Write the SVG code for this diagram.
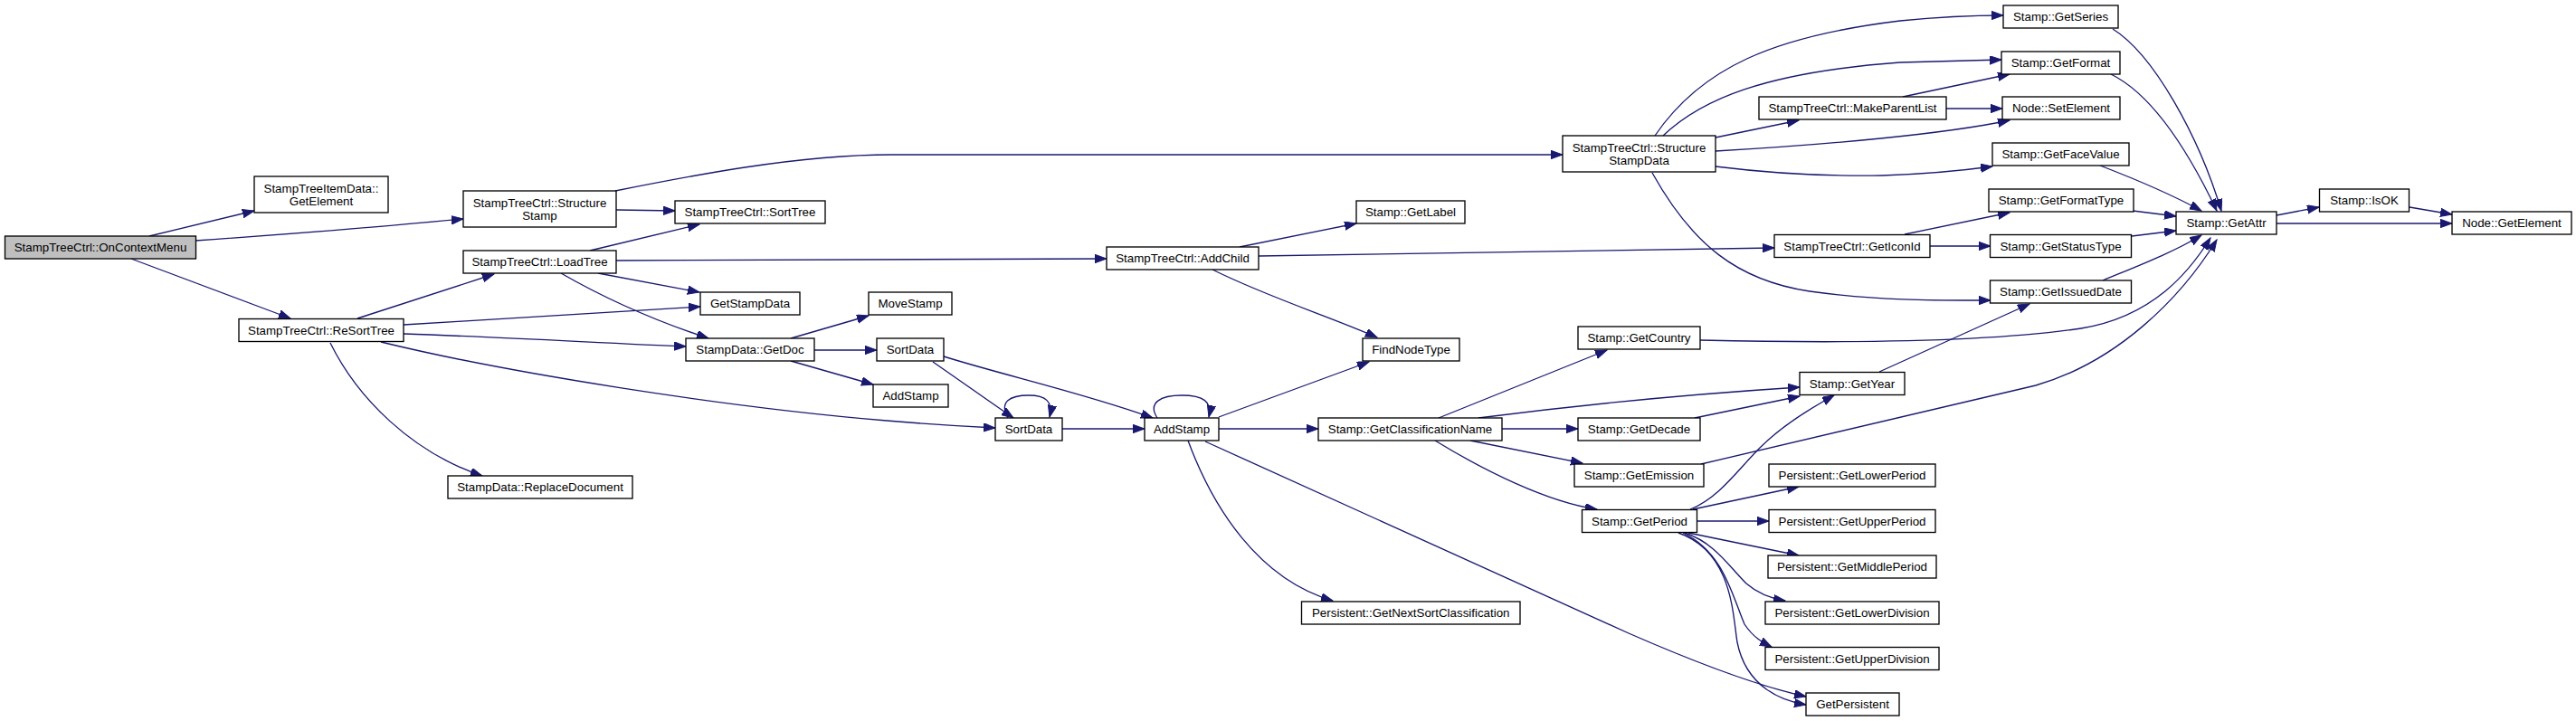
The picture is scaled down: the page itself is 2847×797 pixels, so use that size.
<svg xmlns="http://www.w3.org/2000/svg" width="2847" height="797" viewBox="0 0 2847 797">
<style>
.node rect{fill:#ffffff;stroke:#000000;stroke-width:1.33}
.root rect{fill:#bfbfbf}
text{font-family:"Liberation Sans",Arial,Helvetica,sans-serif;font-size:13.33px;text-anchor:middle;fill:#000000}
.edges path{fill:none;stroke:#191970;stroke-width:1.33;marker-end:url(#arr)}
</style>
<defs>
<marker id="arr" markerUnits="userSpaceOnUse" markerWidth="14" markerHeight="10" viewBox="0 0 14 10" refX="13" refY="4.7" orient="auto">
<path d="M0,0 L13,4.7 L0,9.4 z" fill="#191970" stroke="#191970" stroke-width="1"/>
</marker>
</defs>
<rect x="0" y="0" width="2847" height="797" fill="#ffffff"/>
<g class="edges" id="edges">
<path d="M165,261 L281,233"/>
<path d="M216,266 C330,258 430,250 512,242"/>
<path d="M145,286 L321,352"/>
<path d="M680,211 C760,195 880,171 985,171 L1727,171"/>
<path d="M681,232 L746,233"/>
<path d="M652,277 L773,248"/>
<path d="M681,288 C900,287 1100,286 1223,286"/>
<path d="M661,302 L773,323"/>
<path d="M620,302 C660,325 710,350 783,374"/>
<path d="M395,352 L546,303"/>
<path d="M446,359 C560,352 680,345 774,339"/>
<path d="M446,369 C560,373 680,380 758,383"/>
<path d="M421,378 C560,412 800,450 980,465 C1040,470 1080,472 1100,473"/>
<path d="M365,379 C395,440 455,500 533,526"/>
<path d="M874,374 L960,349"/>
<path d="M900,387 L969,387"/>
<path d="M874,399 L965,425"/>
<path d="M1031,400 C1060,420 1095,445 1120,462"/>
<path d="M1043,394 C1110,415 1200,435 1274,462"/>
<path d="M1114,462 C1104,444 1116,437 1137,437 C1156,437 1164,444 1160,461"/>
<path d="M1174,474 L1265,474"/>
<path d="M1279,462 C1268,445 1283,437 1306,437 C1330,437 1340,444 1336,461"/>
<path d="M1347,461 L1513,400"/>
<path d="M1347,474 L1457,474"/>
<path d="M1313,487 C1340,560 1390,640 1473,664"/>
<path d="M1332,488 L1800,700 C1880,735 1950,760 1996,770"/>
<path d="M1370,273 L1499,247"/>
<path d="M1391,283 C1600,280 1800,276 1961,274"/>
<path d="M1340,298 C1400,328 1470,350 1522,373"/>
<path d="M1829,150 C1880,75 1960,40 2100,23 C2150,18 2180,17 2214,17"/>
<path d="M1838,150 C1880,110 1950,80 2100,69 L2212,66"/>
<path d="M1896,152 L1988,133"/>
<path d="M1896,167 C2020,160 2150,148 2221,133"/>
<path d="M1896,184 C1960,192 2020,195 2080,194 C2140,192 2180,187 2202,184"/>
<path d="M1826,191 C1870,270 1920,310 2000,322 C2080,333 2150,332 2200,332"/>
<path d="M2103,107 L2221,82"/>
<path d="M2151,120 L2213,120"/>
<path d="M2105,259 L2221,235"/>
<path d="M2133,272 L2200,272"/>
<path d="M1590,462 L1776,387"/>
<path d="M1634,462 C1750,447 1880,435 1989,428"/>
<path d="M1660,474 L1744,474"/>
<path d="M1625,487 L1749,512"/>
<path d="M1586,487 C1640,520 1710,555 1765,563"/>
<path d="M1879,376 C2050,380 2200,378 2300,363 C2380,350 2420,300 2443,263"/>
<path d="M1873,462 L1989,438"/>
<path d="M1880,513 L2250,426 C2340,400 2410,330 2450,265"/>
<path d="M2077,411 L2243,336"/>
<path d="M1868,563 C1900,550 1920,520 1945,495 C1970,470 2000,452 2027,437"/>
<path d="M1871,563 L1988,538"/>
<path d="M1875,576 L1955,576"/>
<path d="M1866,589 L1988,614"/>
<path d="M1862,589 C1895,600 1910,625 1930,645 C1945,658 1960,662 1973,664"/>
<path d="M1860,589 C1905,610 1915,660 1928,690 C1938,705 1948,710 1958,715"/>
<path d="M1855,589 C1915,610 1915,680 1920,710 C1930,760 1970,775 1996,779"/>
<path d="M2335,32 C2380,60 2430,150 2455,233"/>
<path d="M2333,82 C2380,105 2420,170 2450,233"/>
<path d="M2321,183 C2360,198 2400,215 2433,233"/>
<path d="M2357,233 L2405,239"/>
<path d="M2356,261 L2405,255"/>
<path d="M2324,310 C2360,295 2400,280 2433,260"/>
<path d="M2516,238 L2563,229"/>
<path d="M2516,247 L2710,247"/>
<path d="M2663,229 L2710,237"/>
</g>
<g class="node root" id="n_OnContextMenu"><rect x="5.5" y="261" width="211" height="25"/><text x="111" y="278">StampTreeCtrl::OnContextMenu</text></g>
<g class="node" id="n_ItemDataGetElement"><rect x="281" y="195" width="148" height="40"/><text x="355" y="212.5">StampTreeItemData::</text><text x="355" y="227">GetElement</text></g>
<g class="node" id="n_StructureStamp"><rect x="512" y="211" width="169" height="40"/><text x="596.5" y="228.5">StampTreeCtrl::Structure</text><text x="596.5" y="243">Stamp</text></g>
<g class="node" id="n_LoadTree"><rect x="512" y="277" width="169" height="25"/><text x="596.5" y="294">StampTreeCtrl::LoadTree</text></g>
<g class="node" id="n_ReSortTree"><rect x="264" y="352.5" width="182" height="25"/><text x="355" y="369.5">StampTreeCtrl::ReSortTree</text></g>
<g class="node" id="n_ReplaceDocument"><rect x="495" y="526" width="204" height="25"/><text x="597" y="543">StampData::ReplaceDocument</text></g>
<g class="node" id="n_SortTree"><rect x="746" y="222" width="166" height="25"/><text x="829" y="239">StampTreeCtrl::SortTree</text></g>
<g class="node" id="n_GetStampData"><rect x="774" y="323" width="110" height="25"/><text x="829" y="340">GetStampData</text></g>
<g class="node" id="n_GetDoc"><rect x="758" y="374" width="142" height="25"/><text x="829" y="391">StampData::GetDoc</text></g>
<g class="node" id="n_MoveStamp"><rect x="960" y="323" width="92" height="25"/><text x="1006" y="340">MoveStamp</text></g>
<g class="node" id="n_SortData1"><rect x="969" y="374" width="74" height="25"/><text x="1006" y="391">SortData</text></g>
<g class="node" id="n_AddStamp1"><rect x="965" y="425" width="83" height="25"/><text x="1006.5" y="442">AddStamp</text></g>
<g class="node" id="n_SortData2"><rect x="1100" y="462" width="74" height="25"/><text x="1137" y="479">SortData</text></g>
<g class="node" id="n_AddChild"><rect x="1223" y="273" width="168" height="25"/><text x="1307" y="290">StampTreeCtrl::AddChild</text></g>
<g class="node" id="n_AddStamp2"><rect x="1265" y="462" width="82" height="25"/><text x="1306" y="479">AddStamp</text></g>
<g class="node" id="n_StructureStampData"><rect x="1727" y="150" width="169" height="40"/><text x="1811.5" y="167.5">StampTreeCtrl::Structure</text><text x="1811.5" y="182">StampData</text></g>
<g class="node" id="n_GetLabel"><rect x="1499" y="222" width="120" height="25"/><text x="1559" y="239">Stamp::GetLabel</text></g>
<g class="node" id="n_FindNodeType"><rect x="1506" y="374" width="107" height="25"/><text x="1559.5" y="391">FindNodeType</text></g>
<g class="node" id="n_GetClassificationName"><rect x="1457" y="462" width="203" height="25"/><text x="1558.5" y="479">Stamp::GetClassificationName</text></g>
<g class="node" id="n_GetNextSortClassification"><rect x="1438.5" y="665" width="241.5" height="25"/><text x="1559.25" y="682">Persistent::GetNextSortClassification</text></g>
<g class="node" id="n_GetCountry"><rect x="1744" y="361" width="135" height="25"/><text x="1811.5" y="378">Stamp::GetCountry</text></g>
<g class="node" id="n_GetDecade"><rect x="1744" y="462" width="135" height="25"/><text x="1811.5" y="479">Stamp::GetDecade</text></g>
<g class="node" id="n_GetEmission"><rect x="1740" y="513" width="143" height="25"/><text x="1811.5" y="530">Stamp::GetEmission</text></g>
<g class="node" id="n_GetPeriod"><rect x="1748.5" y="563.5" width="127" height="25"/><text x="1812" y="580.5">Stamp::GetPeriod</text></g>
<g class="node" id="n_MakeParentList"><rect x="1944" y="107" width="207" height="25"/><text x="2047.5" y="124">StampTreeCtrl::MakeParentList</text></g>
<g class="node" id="n_GetIconId"><rect x="1961" y="259.5" width="172" height="25"/><text x="2047" y="276.5">StampTreeCtrl::GetIconId</text></g>
<g class="node" id="n_GetYear"><rect x="1989" y="411.5" width="116" height="25"/><text x="2047" y="428.5">Stamp::GetYear</text></g>
<g class="node" id="n_GetLowerPeriod"><rect x="1955" y="513" width="184" height="25"/><text x="2047" y="530">Persistent::GetLowerPeriod</text></g>
<g class="node" id="n_GetUpperPeriod"><rect x="1955" y="563.5" width="184" height="25"/><text x="2047" y="580.5">Persistent::GetUpperPeriod</text></g>
<g class="node" id="n_GetMiddlePeriod"><rect x="1954" y="614" width="186" height="25"/><text x="2047" y="631">Persistent::GetMiddlePeriod</text></g>
<g class="node" id="n_GetLowerDivision"><rect x="1951" y="665" width="192" height="25"/><text x="2047" y="682">Persistent::GetLowerDivision</text></g>
<g class="node" id="n_GetUpperDivision"><rect x="1951" y="715.5" width="192" height="25"/><text x="2047" y="732.5">Persistent::GetUpperDivision</text></g>
<g class="node" id="n_GetPersistent"><rect x="1996" y="766" width="103" height="25"/><text x="2047.5" y="783">GetPersistent</text></g>
<g class="node" id="n_GetSeries"><rect x="2214" y="6" width="127" height="25"/><text x="2277.5" y="23">Stamp::GetSeries</text></g>
<g class="node" id="n_GetFormat"><rect x="2212" y="57" width="131" height="25"/><text x="2277.5" y="74">Stamp::GetFormat</text></g>
<g class="node" id="n_SetElement"><rect x="2213" y="107" width="130" height="25"/><text x="2278" y="124">Node::SetElement</text></g>
<g class="node" id="n_GetFaceValue"><rect x="2202" y="158" width="151" height="25"/><text x="2277.5" y="175">Stamp::GetFaceValue</text></g>
<g class="node" id="n_GetFormatType"><rect x="2198" y="209" width="160" height="25"/><text x="2278" y="226">Stamp::GetFormatType</text></g>
<g class="node" id="n_GetStatusType"><rect x="2199.5" y="259.5" width="156" height="25"/><text x="2277.5" y="276.5">Stamp::GetStatusType</text></g>
<g class="node" id="n_GetIssuedDate"><rect x="2199.5" y="310" width="156" height="25"/><text x="2277.5" y="327">Stamp::GetIssuedDate</text></g>
<g class="node" id="n_GetAttr"><rect x="2405" y="234" width="111" height="25"/><text x="2460.5" y="251">Stamp::GetAttr</text></g>
<g class="node" id="n_IsOK"><rect x="2563.5" y="209" width="99" height="25"/><text x="2613" y="226">Stamp::IsOK</text></g>
<g class="node" id="n_NodeGetElement"><rect x="2710" y="234" width="132" height="25"/><text x="2776" y="251">Node::GetElement</text></g>
</svg>
